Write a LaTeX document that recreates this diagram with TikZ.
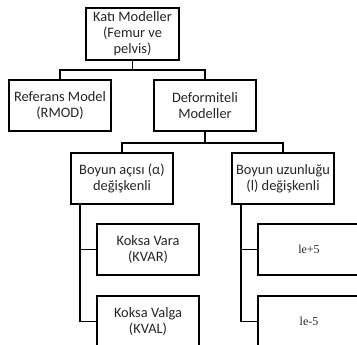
\documentclass[tikz,border=0pt]{standalone}
\usepackage{fontspec}
\setmainfont{Carlito}
\newfontfamily\serifle{Liberation Serif}
\usetikzlibrary{calc}
\tikzset{
  kutu/.style={draw, line width=1.3pt, fill=white, align=center, inner sep=1pt,
    minimum width=76.5pt, minimum height=38.25pt, text=black!85,
    font=\fontsize{10.8}{12}\selectfont},
  hat/.style={line width=1.3pt}
}

\begin{document}
\begin{tikzpicture}[x=0.75pt, y=-0.75pt]
			%%%%% START %%%%%
			\useasboundingbox (0, 0) rectangle (357, 344);
			\clip (0, 0) rectangle (357, 344);
			
			\node[kutu, minimum width=69.75pt, minimum height=39pt] (kati) at (132.5, 34) {Katı Modeller\\(Femur ve\\pelvis)};
			
			\node[kutu] (referans) at (60, 105.5) {Referans Model\\(RMOD)};
			\node[kutu] (deform) at (205, 105.5) {Deformiteli\\Modeller};
			
			\node[kutu] (boyunaci) at (122, 178.5) {Boyun açısı (α)\\değişkenli};
			\node[kutu] (boyunuzun) at (283, 178.5) {Boyun uzunluğu\\(l) değişkenli};
			
			\node[kutu] (kvar) at (148, 249.5) {Koksa Vara\\(KVAR)};
			\node[kutu] (kval) at (148, 321.5) {Koksa Valga\\(KVAL)};
			
			\node[kutu, font=\serifle\fontsize{9}{11}\selectfont] (leart) at (309, 249.5) {le+5};
			\node[kutu, font=\serifle\fontsize{9}{11}\selectfont] (leeks) at (309, 321.5) {le-5};
			
			% baglantilar
			\draw[hat] (kati.south) -- ++(0, 9) -| (referans.north);
			\draw[hat] (kati.south) -- ++(0, 9) -| (deform.north);
			\draw[hat] (deform.south) -- ++(0, 11) -| (boyunaci.north);
			\draw[hat] (deform.south) -- ++(0, 11) -| (boyunuzun.north);
			
			\draw[hat] ($(boyunaci.south west)+(10, 0)$) |- (kvar.west);
			\draw[hat] ($(boyunaci.south west)+(10, 0)$) |- (kval.west);
			\draw[hat] ($(boyunuzun.south west)+(10, 0)$) |- (leart.west);
			\draw[hat] ($(boyunuzun.south west)+(10, 0)$) |- (leeks.west);
			%%%%% END %%%%%
		\end{tikzpicture}
\end{document}
